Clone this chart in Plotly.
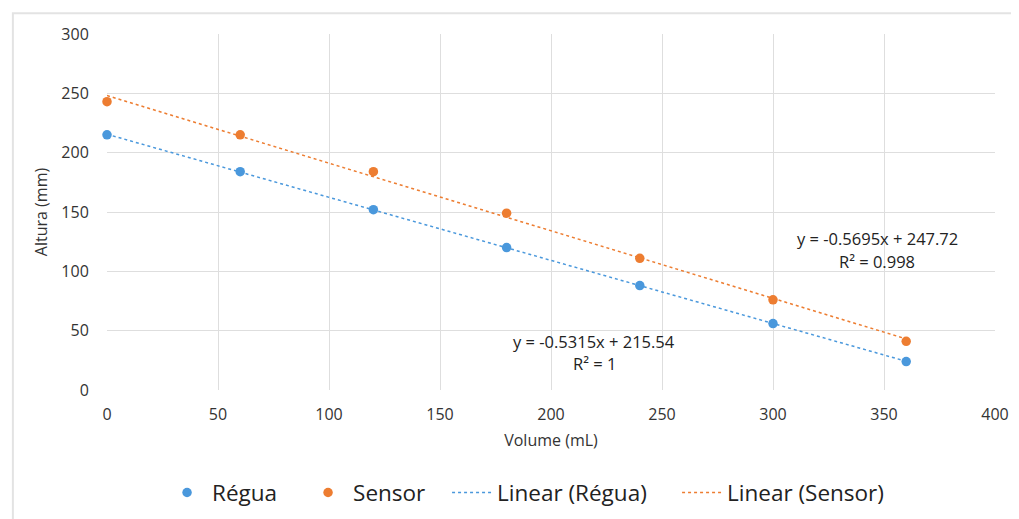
import numpy as np
import plotly.graph_objects as go

volume = [0, 60, 120, 180, 240, 300, 360]
regua = [215, 184, 152, 120, 88, 56, 24]
sensor = [243, 215, 184, 149, 111, 76, 41]

blue = "#4A98DC"
orange = "#ED7D31"
font = "Open Sans"

def fit(x, y):
    m, b = np.polyfit(x, y, 1)
    xs = np.array([min(x), max(x)])
    return xs, m * xs + b

fig = go.Figure()
fig.add_trace(go.Scatter(x=volume, y=regua, mode="markers", name="Régua",
                         marker=dict(color=blue, size=9.5), cliponaxis=False,
                         legendwidth=86))
fig.add_trace(go.Scatter(x=volume, y=sensor, mode="markers", name="Sensor",
                         marker=dict(color=orange, size=9.5), cliponaxis=False,
                         legendwidth=89))
xr, yr = fit(volume, regua)
xs, ys = fit(volume, sensor)
fig.add_trace(go.Scatter(x=xr, y=yr, mode="lines", name="Linear (Régua)",
                         line=dict(color=blue, width=1.5, dash="dot"),
                         legendwidth=175))
fig.add_trace(go.Scatter(x=xs, y=ys, mode="lines", name="Linear (Sensor)",
                         line=dict(color=orange, width=1.5, dash="dot"),
                         legendwidth=165))

ann_font = dict(family=font, size=16.5, color="#222")
fig.add_annotation(x=347, y=128, xref="x", yref="y", showarrow=False,
                   text="y = -0.5695x + 247.72", font=ann_font)
fig.add_annotation(x=347, y=108, xref="x", yref="y", showarrow=False,
                   text="R² = 0.998", font=ann_font)
fig.add_annotation(x=219.5, y=40.5, xref="x", yref="y", showarrow=False,
                   text="y = -0.5315x + 215.54", font=ann_font)
fig.add_annotation(x=219.5, y=22.7, xref="x", yref="y", showarrow=False,
                   text="R² = 1", font=ann_font)

fig.add_shape(type="rect", xref="paper", yref="paper", x0=-0.106, x1=1.05,
              y0=-0.5, y1=1.058, line=dict(color="#e3e3e3", width=2), layer="below")

fig.update_layout(
    width=1011, height=511,
    margin=dict(l=99, r=24, t=26, b=129, autoexpand=False),
    paper_bgcolor="white", plot_bgcolor="white",
    font=dict(family=font, color="#404040"),
    showlegend=True,
    legend=dict(orientation="h", x=0.062, xanchor="left", y=-0.289, yanchor="middle",
                font=dict(size=22.5, color="#222"), itemwidth=40),
    xaxis=dict(range=[0, 400], dtick=50, showgrid=True, gridcolor="#dedede",
               zeroline=False, showline=False, ticks="outside", ticklen=10,
               tickcolor="rgba(0,0,0,0)",
               tickfont=dict(size=16, color="#333"),
               title=dict(text="Volume (mL)", font=dict(size=16, color="#333"), standoff=10)),
    yaxis=dict(range=[0, 300], dtick=50, showgrid=True, gridcolor="#dedede",
               zeroline=False, showline=False, ticks="outside", ticklen=14,
               tickcolor="rgba(0,0,0,0)",
               tickfont=dict(size=16, color="#333"),
               title=dict(text="Altura (mm)", font=dict(size=16, color="#333"), standoff=9)),
)
fig.write_html("out.html")
